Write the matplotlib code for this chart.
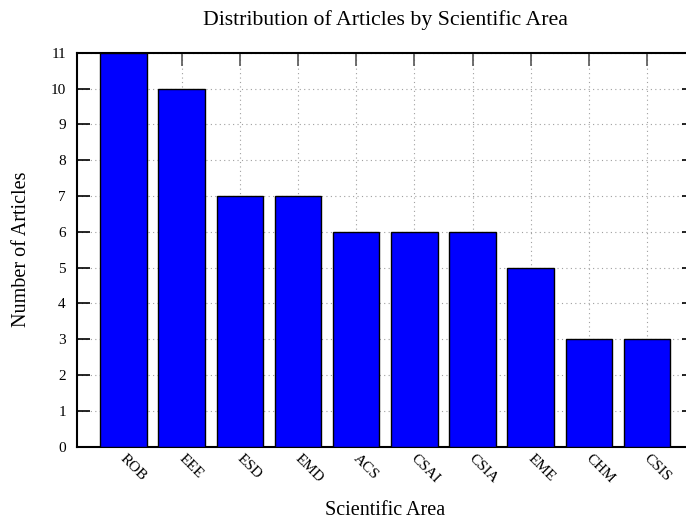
import matplotlib
matplotlib.use('Agg')
import matplotlib.pyplot as plt

areas = ['ROB', 'EEE', 'ESD', 'EMD', 'ACS', 'CSAI', 'CSIA', 'EME', 'CHM', 'CSIS']
counts = [11, 10, 7, 7, 6, 6, 6, 5, 3, 3]

plt.rcParams['font.family'] = ['Liberation Serif', 'DejaVu Serif']

fig = plt.figure(figsize=(6.86, 5.2), dpi=100)
ax = fig.add_axes([0.1122, 0.1413, 0.8988, 0.7573])

x = list(range(len(areas)))
ax.bar(x, counts, width=0.8, color='#0000ff', edgecolor='black', linewidth=1.0, zorder=3)

ax.set_xlim(-0.8, len(areas) - 0.2)
ax.set_ylim(0, 11)
ax.set_yticks(range(0, 12))
ax.set_xticks(x)
ax.set_xticklabels([])

# dotted grid behind the bars
ax.grid(True, linestyle=(0, (1, 3)), color='#a0a0a0', linewidth=0.8, zorder=0)

ax.tick_params(axis='y', direction='in', length=9, width=1.2, left=True, right=True,
               labelsize=11, pad=8)
ax.tick_params(axis='x', direction='in', length=9, width=1.2, bottom=False, top=True,
               color='#555555')
for s in ax.spines.values():
    s.set_linewidth(1.5)

for xi, name in zip(x, areas):
    ax.text(xi - 0.02, -0.28, name, rotation=-45, rotation_mode='anchor',
            ha='left', va='center', fontsize=11)

ax.set_title('Distribution of Articles by Scientific Area', fontsize=15.7, pad=20)
ax.set_xlabel('Scientific Area', fontsize=14.5, labelpad=36)
ax.set_ylabel('Number of Articles', fontsize=14.5, labelpad=14)

fig.savefig('out.png', dpi=100)
